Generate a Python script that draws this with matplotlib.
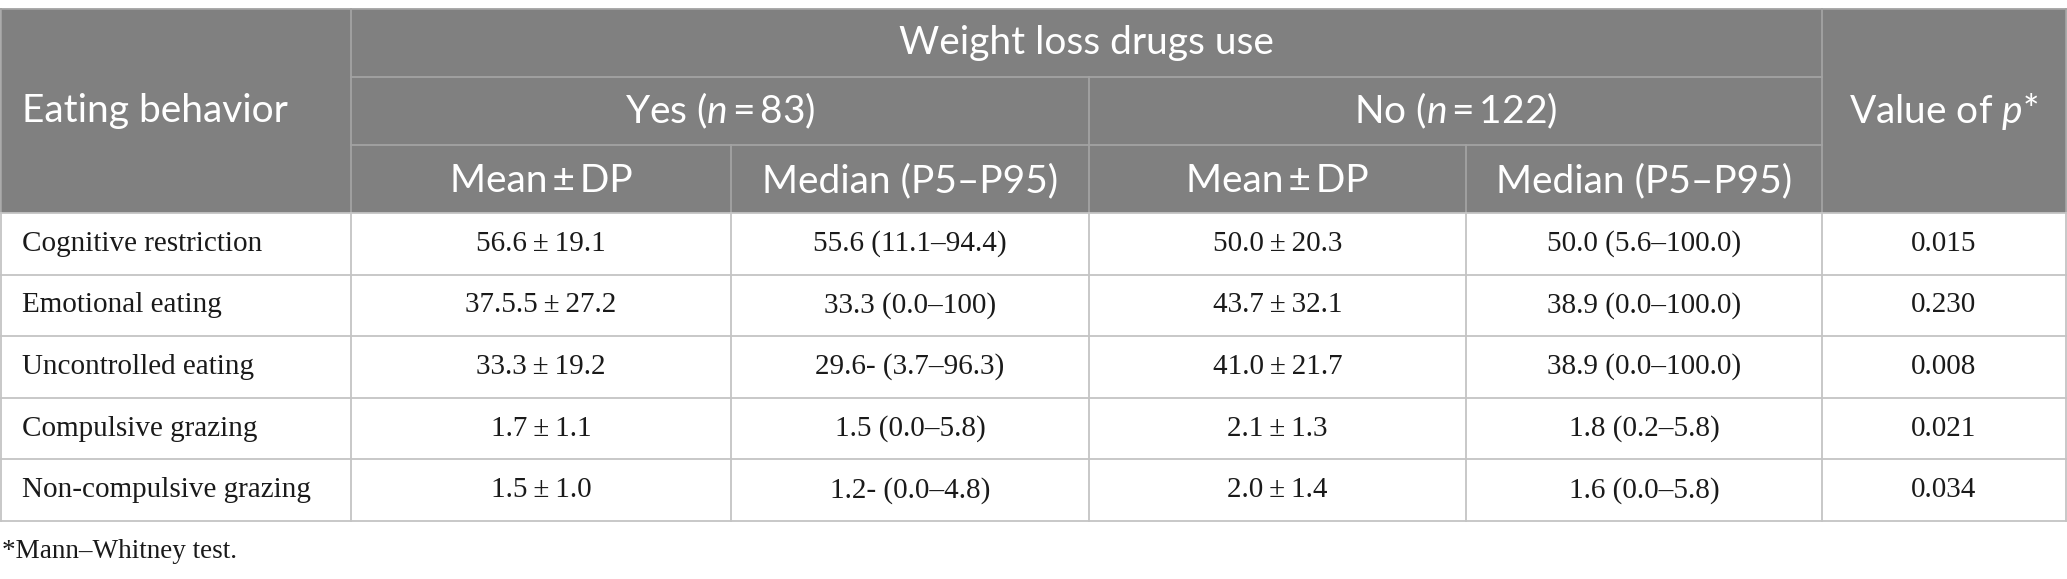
import matplotlib.pyplot as plt
from matplotlib.patches import Rectangle

TS = "\u2009"  # thin space

# table content
behaviors = ["Cognitive restriction", "Emotional eating", "Uncontrolled eating",
             "Compulsive grazing", "Non-compulsive grazing"]
yes_mean_sd = ["56.6 ± 19.1", "37.5.5 ± 27.2", "33.3 ± 19.2", "1.7 ± 1.1", "1.5 ± 1.0"]
yes_median = ["55.6 (11.1–94.4)", "33.3 (0.0–100)", "29.6- (3.7–96.3)", "1.5 (0.0–5.8)", "1.2- (0.0–4.8)"]
no_mean_sd = ["50.0 ± 20.3", "43.7 ± 32.1", "41.0 ± 21.7", "2.1 ± 1.3", "2.0 ± 1.4"]
no_median = ["50.0 (5.6–100.0)", "38.9 (0.0–100.0)", "38.9 (0.0–100.0)", "1.8 (0.2–5.8)", "1.6 (0.0–5.8)"]
p_values = ["0.015", "0.230", "0.008", "0.021", "0.034"]

col_title = "Eating behavior"
group_title = "Weight loss drugs use"
sub_groups = ["Yes ($n$" + TS + "=" + TS + "83)", "No ($n$" + TS + "=" + TS + "122)"]
stat_heads = ["Mean ± DP", "Median (P5–P95)", "Mean ± DP", "Median (P5–P95)"]
p_title = "Value of $p$*"
footnote = "*Mann–Whitney test."

plt.rcParams['mathtext.fontset'] = 'custom'
plt.rcParams['mathtext.rm'] = 'Lato'
plt.rcParams['mathtext.it'] = 'Lato:italic'

W, H = 2067, 579
xs = [1, 351, 731, 1089, 1466, 1822, 2066]      # column edges (px)
y_top, y_h1, y_h2, y_hb = 9, 77, 145, 213       # header rows
row_h = 61.6
y_rows = [y_hb + i * row_h for i in range(len(behaviors) + 1)]

fig = plt.figure(figsize=(W / 100, H / 100), dpi=100)
ax = fig.add_axes([0, 0, 1, 1])
ax.set_xlim(0, W)
ax.set_ylim(H, 0)
ax.axis('off')

head_bg = '#808080'
head_ln = '#a3a3a3'
grid_ln = '#c4c4c4'
lw = 1.3

ax.add_patch(Rectangle((xs[0], y_top), xs[-1] - xs[0], y_hb - y_top,
                       facecolor=head_bg, edgecolor='none'))

# header lines
ax.plot([xs[1], xs[5]], [y_h1, y_h1], color=head_ln, lw=lw)
ax.plot([xs[1], xs[5]], [y_h2, y_h2], color=head_ln, lw=lw)
ax.plot([xs[1], xs[1]], [y_top, y_hb], color=head_ln, lw=lw)
ax.plot([xs[5], xs[5]], [y_top, y_hb], color=head_ln, lw=lw)
ax.plot([xs[3], xs[3]], [y_h1, y_hb], color=head_ln, lw=lw)
ax.plot([xs[2], xs[2]], [y_h2, y_hb], color=head_ln, lw=lw)
ax.plot([xs[4], xs[4]], [y_h2, y_hb], color=head_ln, lw=lw)
ax.plot([xs[0], xs[-1]], [y_top, y_top], color=head_ln, lw=lw)
ax.plot([xs[0], xs[0]], [y_top, y_hb], color=head_ln, lw=lw)
ax.plot([xs[-1], xs[-1]], [y_top, y_hb], color=head_ln, lw=lw)

# body grid
for y in y_rows:
    ax.plot([xs[0], xs[-1]], [y, y], color=grid_ln, lw=lw)
for x in xs:
    ax.plot([x, x], [y_hb, y_rows[-1]], color=grid_ln, lw=lw)

# header text
hfont = dict(family='Lato', color='white', fontsize=28)
ax.text(22, (y_top + y_hb) / 2, col_title, ha='left', va='center', **hfont)
ax.text((xs[1] + xs[5]) / 2, (y_top + y_h1) / 2, group_title, ha='center', va='center', **hfont)
ax.text((xs[1] + xs[3]) / 2, (y_h1 + y_h2) / 2, sub_groups[0], ha='center', va='center', **hfont)
ax.text((xs[3] + xs[5]) / 2, (y_h1 + y_h2) / 2, sub_groups[1], ha='center', va='center', **hfont)
for i, s in enumerate(stat_heads):
    ax.text((xs[i + 1] + xs[i + 2]) / 2, (y_h2 + y_hb) / 2 + 2, s.replace(" ± ", TS + "±" + TS),
            ha='center', va='center', **hfont)
ax.text((xs[5] + xs[6]) / 2, (y_top + y_hb) / 2, p_title, ha='center', va='center', **hfont)

# body text
bfont = dict(family='Liberation Serif', color='#1a1a1a', fontsize=21)
cols = [yes_mean_sd, yes_median, no_mean_sd, no_median, p_values]
for r, name in enumerate(behaviors):
    yc = (y_rows[r] + y_rows[r + 1]) / 2
    ax.text(22, yc, name, ha='left', va='center', **bfont)
    for c, col in enumerate(cols):
        ax.text((xs[c + 1] + xs[c + 2]) / 2, yc, col[r].replace(" ± ", TS + "±" + TS),
                ha='center', va='center', **bfont)

ax.text(2, 552, footnote, ha='left', va='center',
        family='Liberation Serif', color='#1a1a1a', fontsize=19.5)

fig.savefig('out.png', dpi=100)
